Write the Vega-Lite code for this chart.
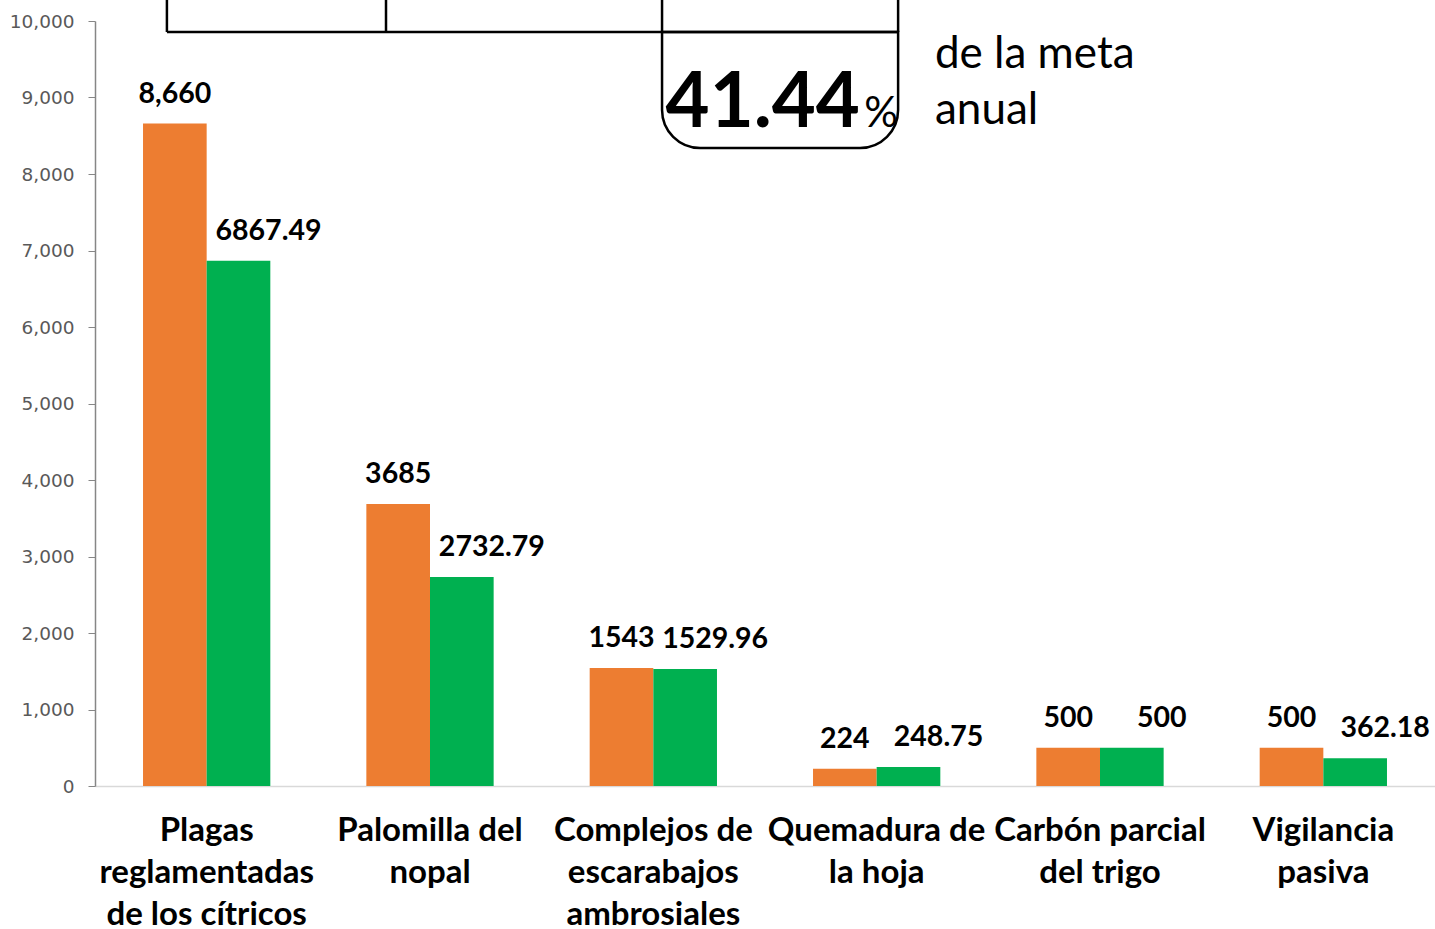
{
  "$schema": "https://vega.github.io/schema/vega-lite/v6.json",
  "width": 1340,
  "height": 765,
  "autosize": {"type": "none"},
  "padding": {"left": 95, "top": 21, "right": 0, "bottom": 143},
  "background": "white",
  "config": {"view": {"stroke": null}},
  "datasets": {
    "bars": [
      {"cat": "Plagas|reglamentadas|de los cítricos", "serie": "Meta", "valor": 8660, "etiqueta": "8,660"},
      {"cat": "Plagas|reglamentadas|de los cítricos", "serie": "Avance", "valor": 6867.49, "etiqueta": "6867.49"},
      {"cat": "Palomilla del|nopal", "serie": "Meta", "valor": 3685, "etiqueta": "3685"},
      {"cat": "Palomilla del|nopal", "serie": "Avance", "valor": 2732.79, "etiqueta": "2732.79"},
      {"cat": "Complejos de|escarabajos|ambrosiales", "serie": "Meta", "valor": 1543, "etiqueta": "1543"},
      {"cat": "Complejos de|escarabajos|ambrosiales", "serie": "Avance", "valor": 1529.96, "etiqueta": "1529.96"},
      {"cat": "Quemadura de|la hoja", "serie": "Meta", "valor": 224, "etiqueta": "224"},
      {"cat": "Quemadura de|la hoja", "serie": "Avance", "valor": 248.75, "etiqueta": "248.75"},
      {"cat": "Carbón parcial|del trigo", "serie": "Meta", "valor": 500, "etiqueta": "500"},
      {"cat": "Carbón parcial|del trigo", "serie": "Avance", "valor": 500, "etiqueta": "500"},
      {"cat": "Vigilancia|pasiva", "serie": "Meta", "valor": 500, "etiqueta": "500"},
      {"cat": "Vigilancia|pasiva", "serie": "Avance", "valor": 362.18, "etiqueta": "362.18"}
    ],
    "lineas": [
      {"x": 0.322, "x2": 3.596, "y": 9856, "y2": 9856},
      {"x": 0.322, "x2": 0.322, "y": 9856, "y2": 10500},
      {"x": 1.303, "x2": 1.303, "y": 9856, "y2": 10500},
      {"x": 2.539, "x2": 2.539, "y": 9856, "y2": 10500},
      {"x": 3.596, "x2": 3.596, "y": 9856, "y2": 10500}
    ],
    "caja": [{"x": 2.539, "x2": 3.596, "y": 9856, "y2": 8340}],
    "textos": [
      {"x": 2.99, "y": 8620, "t": "41.44", "k": "big"},
      {"x": 3.52, "y": 8620, "t": "%", "k": "pct"},
      {"x": 3.761, "y": 9390, "t": "de la meta", "k": "note"},
      {"x": 3.761, "y": 8655, "t": "anual", "k": "note"}
    ]
  },
  "resolve": {"scale": {"x": "independent"}, "axis": {"x": "independent", "y": "independent"}},
  "layer": [
    {
      "data": {"name": "bars"},
      "encoding": {
        "x": {
          "field": "cat", "type": "nominal", "sort": null,
          "scale": {"paddingInner": 0.43, "paddingOuter": 0.215},
          "axis": {
            "title": null,
            "labelAngle": 0,
            "labelExpr": "split(datum.value, '|')",
            "labelFont": "Lato",
            "labelFontWeight": "bold",
            "labelFontSize": 33,
            "labelColor": "#000000",
            "labelLineHeight": 42,
            "labelBaseline": "top",
            "labelPadding": 28,
            "ticks": false,
            "domainColor": "#D9D9D9",
            "domainWidth": 1.5,
            "labelLimit": 400
          }
        },
        "xOffset": {"field": "serie", "type": "nominal", "sort": ["Meta", "Avance"], "scale": {"paddingInner": 0, "paddingOuter": 0}},
        "y": {
          "field": "valor", "type": "quantitative",
          "scale": {"domain": [0, 10000], "nice": false},
          "axis": {
            "title": null,
            "values": [0, 1000, 2000, 3000, 4000, 5000, 6000, 7000, 8000, 9000, 10000],
            "labelExpr": "datum.value == 0 ? '0' : floor(datum.value / 1000) + ',000'",
            "grid": false,
            "labelFont": "DejaVu Sans",
            "labelFontSize": 18.5,
            "labelColor": "#595959",
            "labelPadding": 14,
            "tickSize": 7,
            "tickColor": "#868686",
            "domainColor": "#868686",
            "domainWidth": 1.5
          }
        }
      },
      "layer": [
        {
          "mark": {"type": "bar"},
          "encoding": {
            "color": {"field": "serie", "type": "nominal", "scale": {"domain": ["Meta", "Avance"], "range": ["#ED7D31", "#00B050"]}, "legend": null}
          }
        },
        {
          "transform": [{"filter": "datum.serie == 'Meta'"}],
          "mark": {"type": "text", "font": "Lato", "fontWeight": "bold", "fontSize": 28.5, "baseline": "alphabetic", "dy": -21, "color": "#000000"},
          "encoding": {"text": {"field": "etiqueta"}}
        },
        {
          "transform": [{"filter": "datum.serie == 'Avance'"}],
          "mark": {"type": "text", "font": "Lato", "fontWeight": "bold", "fontSize": 28.5, "baseline": "alphabetic", "dy": -21, "dx": 30, "color": "#000000"},
          "encoding": {"text": {"field": "etiqueta"}}
        }
      ]
    },
    {
      "data": {"name": "caja"},
      "mark": {"type": "rect", "fill": "white", "stroke": "#000000", "strokeWidth": 2.5, "cornerRadiusBottomLeft": 38, "cornerRadiusBottomRight": 38},
      "encoding": {
        "x": {"field": "x", "type": "quantitative", "scale": {"domain": [0, 6], "nice": false, "zero": false}, "axis": null},
        "x2": {"field": "x2"},
        "y": {"field": "y", "type": "quantitative", "scale": {"domain": [0, 10000], "nice": false}, "axis": null},
        "y2": {"field": "y2"}
      }
    },
    {
      "data": {"name": "lineas"},
      "mark": {"type": "rule", "stroke": "#000000", "strokeWidth": 2.5},
      "encoding": {
        "x": {"field": "x", "type": "quantitative", "scale": {"domain": [0, 6], "nice": false, "zero": false}, "axis": null},
        "x2": {"field": "x2"},
        "y": {"field": "y", "type": "quantitative", "scale": {"domain": [0, 10000], "nice": false}, "axis": null},
        "y2": {"field": "y2"}
      }
    },
    {
      "data": {"name": "textos"},
      "transform": [{"filter": "datum.k == 'big'"}],
      "mark": {"type": "text", "font": "Lato", "fontWeight": "bold", "fontSize": 76, "align": "center", "baseline": "alphabetic", "color": "#000000"},
      "encoding": {
        "x": {"field": "x", "type": "quantitative", "scale": {"domain": [0, 6], "nice": false, "zero": false}, "axis": null},
        "y": {"field": "y", "type": "quantitative", "scale": {"domain": [0, 10000], "nice": false}, "axis": null},
        "text": {"field": "t"}
      }
    },
    {
      "data": {"name": "textos"},
      "transform": [{"filter": "datum.k == 'pct'"}],
      "mark": {"type": "text", "font": "Lato", "fontWeight": "normal", "fontSize": 42, "align": "center", "baseline": "alphabetic", "color": "#000000"},
      "encoding": {
        "x": {"field": "x", "type": "quantitative", "scale": {"domain": [0, 6], "nice": false, "zero": false}, "axis": null},
        "y": {"field": "y", "type": "quantitative", "scale": {"domain": [0, 10000], "nice": false}, "axis": null},
        "text": {"field": "t"}
      }
    },
    {
      "data": {"name": "textos"},
      "transform": [{"filter": "datum.k == 'note'"}],
      "mark": {"type": "text", "font": "Lato", "fontWeight": "normal", "fontSize": 44, "align": "left", "baseline": "alphabetic", "color": "#000000"},
      "encoding": {
        "x": {"field": "x", "type": "quantitative", "scale": {"domain": [0, 6], "nice": false, "zero": false}, "axis": null},
        "y": {"field": "y", "type": "quantitative", "scale": {"domain": [0, 10000], "nice": false}, "axis": null},
        "text": {"field": "t"}
      }
    }
  ]
}
